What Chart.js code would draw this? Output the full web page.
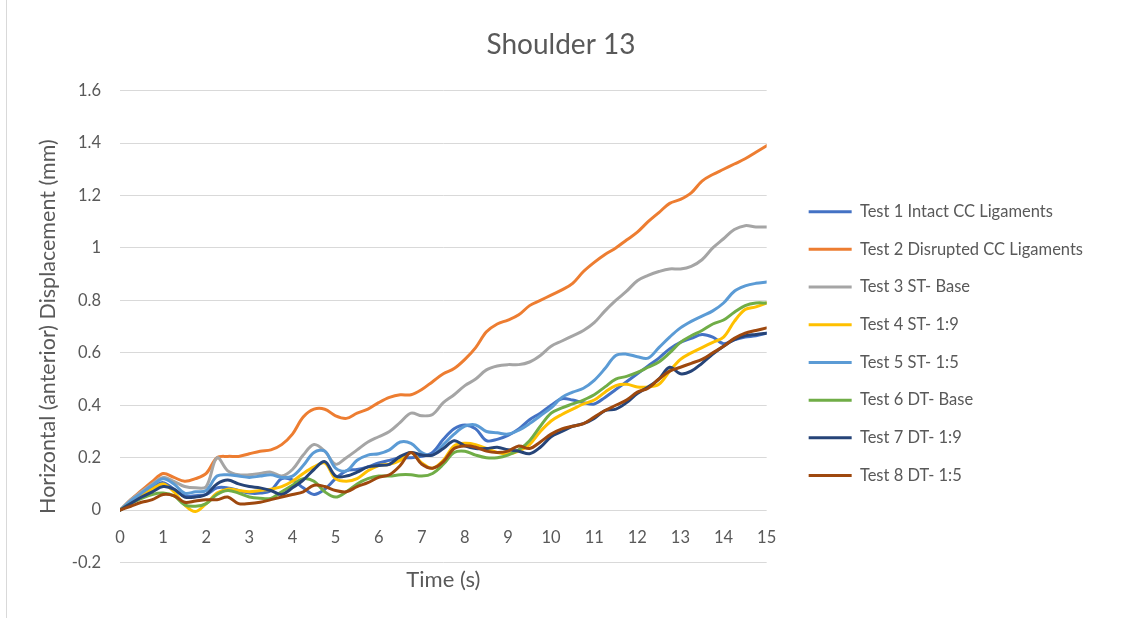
<!DOCTYPE html>
<html lang="en">
<head>
    <meta charset="UTF-8">
    <title>Shoulder 13</title>
    <script src="https://cdn.jsdelivr.net/npm/chart.js"></script>
    <style>
        body {
            margin: 0;
            background-color: #ffffff;
        }

        .frame {
            position: relative;
            width: 1122px;
            height: 618px;
        }

        .frame::before {
            content: "";
            position: absolute;
            left: 6px;
            top: 0;
            bottom: 0;
            border-left: 1px solid #d9d9d9;
        }
    </style>
</head>
<body>
    <div class="frame">
        <canvas id="chart" width="1122" height="618"></canvas>
    </div>
    <script>
        // Time samples (s), every quarter second
        const time = [
            0, 0.25, 0.5, 0.75, 1, 1.25, 1.5, 1.75, 2, 2.25, 2.5, 2.75,
            3, 3.25, 3.5, 3.75, 4, 4.25, 4.5, 4.75, 5, 5.25, 5.5, 5.75,
            6, 6.25, 6.5, 6.75, 7, 7.25, 7.5, 7.75, 8, 8.25, 8.5, 8.75,
            9, 9.25, 9.5, 9.75, 10, 10.25, 10.5, 10.75, 11, 11.25, 11.5, 11.75,
            12, 12.25, 12.5, 12.75, 13, 13.25, 13.5, 13.75, 14, 14.25, 14.5, 14.75,
            15
        ];

        // Horizontal (anterior) displacement in mm for each test
        const test1 = [
            0, 0.03, 0.06, 0.085, 0.105, 0.08, 0.055, 0.055, 0.06, 0.085, 0.085, 0.075,
            0.065, 0.065, 0.075, 0.12, 0.115, 0.085, 0.06, 0.08, 0.12, 0.15, 0.155, 0.165,
            0.18, 0.19, 0.2, 0.2, 0.205, 0.22, 0.27, 0.31, 0.325, 0.31, 0.265, 0.27,
            0.285, 0.31, 0.345, 0.37, 0.4, 0.425, 0.42, 0.41, 0.405, 0.43, 0.46, 0.49,
            0.52, 0.55, 0.58, 0.615, 0.64, 0.655, 0.67, 0.66, 0.635, 0.65, 0.66, 0.665,
            0.675
        ];
        const test2 = [
            0, 0.04, 0.075, 0.11, 0.14, 0.125, 0.11, 0.12, 0.14, 0.2, 0.205, 0.205,
            0.215, 0.225, 0.23, 0.25, 0.29, 0.355, 0.385, 0.385, 0.36, 0.35, 0.37, 0.385,
            0.41, 0.43, 0.44, 0.44, 0.46, 0.49, 0.52, 0.54, 0.575, 0.62, 0.68, 0.71,
            0.725, 0.745, 0.78, 0.8, 0.82, 0.84, 0.865, 0.91, 0.945, 0.975, 1.0, 1.03,
            1.06, 1.1, 1.135, 1.17, 1.185, 1.21, 1.255, 1.28, 1.3, 1.32, 1.34, 1.365,
            1.39
        ];
        const test3 = [
            0, 0.04, 0.07, 0.1, 0.125, 0.11, 0.09, 0.085, 0.09, 0.2, 0.15, 0.135,
            0.135, 0.14, 0.145, 0.13, 0.155, 0.21, 0.25, 0.225, 0.175, 0.2, 0.23, 0.26,
            0.28, 0.3, 0.335, 0.37, 0.36, 0.365, 0.41, 0.44, 0.475, 0.5, 0.535, 0.55,
            0.555, 0.555, 0.565, 0.59, 0.625, 0.645, 0.665, 0.685, 0.715, 0.76, 0.8, 0.835,
            0.875, 0.895, 0.91, 0.92, 0.92, 0.93, 0.955, 1.0, 1.035, 1.07, 1.085, 1.08,
            1.08
        ];
        const test4 = [
            0, 0.03, 0.055, 0.08, 0.1, 0.07, 0.02, -0.005, 0.025, 0.065, 0.08, 0.075,
            0.07, 0.075, 0.08, 0.09, 0.11, 0.14, 0.165, 0.18, 0.12, 0.11, 0.12, 0.15,
            0.17, 0.175, 0.19, 0.22, 0.18, 0.16, 0.19, 0.245, 0.255, 0.25, 0.235, 0.22,
            0.215, 0.225, 0.25, 0.3, 0.34, 0.365, 0.385, 0.405, 0.42, 0.45, 0.475, 0.48,
            0.47, 0.47, 0.48, 0.53, 0.575, 0.6, 0.62, 0.64, 0.66, 0.72, 0.765, 0.775,
            0.79
        ];
        const test5 = [
            0, 0.035, 0.065, 0.095, 0.12, 0.1, 0.065, 0.07, 0.075, 0.13, 0.135, 0.13,
            0.125, 0.13, 0.135, 0.125, 0.13, 0.17, 0.22, 0.225, 0.16, 0.15, 0.19, 0.21,
            0.215, 0.23, 0.26, 0.255, 0.22, 0.21, 0.25, 0.29, 0.32, 0.325, 0.3, 0.295,
            0.29, 0.305, 0.33, 0.36, 0.39, 0.43, 0.45, 0.465, 0.495, 0.54, 0.59, 0.595,
            0.585, 0.58, 0.62, 0.66, 0.695, 0.72, 0.74, 0.76, 0.79, 0.835, 0.855, 0.865,
            0.87
        ];
        const test6 = [
            0, 0.025, 0.045, 0.06, 0.065, 0.055, 0.02, 0.015, 0.025, 0.06, 0.075, 0.065,
            0.05, 0.045, 0.045, 0.07, 0.095, 0.12, 0.11, 0.07, 0.05, 0.07, 0.1, 0.12,
            0.13, 0.13, 0.135, 0.135, 0.13, 0.14, 0.175, 0.22, 0.225, 0.21, 0.2, 0.2,
            0.21, 0.23, 0.265, 0.32, 0.37, 0.39, 0.405, 0.42, 0.44, 0.47, 0.5, 0.51,
            0.525, 0.545, 0.565, 0.6, 0.64, 0.665, 0.685, 0.71, 0.725, 0.755, 0.78, 0.79,
            0.79
        ];
        const test7 = [
            0, 0.025, 0.05, 0.07, 0.09, 0.08, 0.05, 0.05, 0.06, 0.1, 0.115, 0.1,
            0.09, 0.085, 0.075, 0.06, 0.085, 0.115, 0.155, 0.185, 0.13, 0.13, 0.145, 0.165,
            0.17, 0.175, 0.205, 0.22, 0.21, 0.21, 0.235, 0.265, 0.245, 0.235, 0.235, 0.24,
            0.23, 0.225, 0.215, 0.24, 0.28, 0.3, 0.32, 0.33, 0.35, 0.38, 0.385, 0.41,
            0.445, 0.47, 0.5, 0.545, 0.52, 0.53, 0.56, 0.595, 0.625, 0.65, 0.665, 0.67,
            0.675
        ];
        const test8 = [
            0, 0.015, 0.03, 0.04, 0.06, 0.055, 0.03, 0.035, 0.04, 0.04, 0.05, 0.025,
            0.025, 0.03, 0.04, 0.05, 0.06, 0.07, 0.095, 0.09, 0.075, 0.07, 0.09, 0.105,
            0.125, 0.135, 0.17, 0.22, 0.175, 0.16, 0.185, 0.235, 0.245, 0.24, 0.225, 0.22,
            0.225, 0.245, 0.235, 0.26, 0.29, 0.31, 0.32, 0.33, 0.355, 0.38, 0.4, 0.42,
            0.45, 0.465, 0.5, 0.53, 0.545, 0.56, 0.575, 0.6, 0.625, 0.655, 0.675, 0.685,
            0.695
        ];

        const seriesNames = [
            'Test 1 Intact CC Ligaments',
            'Test 2 Disrupted CC Ligaments',
            'Test 3 ST- Base',
            'Test 4 ST- 1:9',
            'Test 5 ST- 1:5',
            'Test 6 DT- Base',
            'Test 7 DT- 1:9',
            'Test 8 DT- 1:5'
        ];
        const seriesValues = [test1, test2, test3, test4, test5, test6, test7, test8];
        const seriesColors = ['#4472C4', '#ED7D31', '#A5A5A5', '#FFC000', '#5B9BD5', '#70AD47', '#264478', '#9E480E'];

        const yTicks = { min: -0.2, max: 1.6, step: 0.2 };
        const xTicks = { min: 0, max: 15, step: 1 };

        const textColor = '#595959';
        const fontFamily = 'Lato, "Noto Sans", sans-serif';

        // Later tests are drawn on top of earlier ones
        const datasets = seriesNames.map((name, i) => ({
            label: name,
            data: seriesValues[i],
            borderColor: seriesColors[i],
            backgroundColor: seriesColors[i],
            borderWidth: 3,
            borderJoinStyle: 'round',
            borderCapStyle: 'round',
            pointRadius: 0,
            pointHoverRadius: 0,
            tension: 0.35,
            fill: false,
            xAxisID: 'x',
            yAxisID: 'y',
            order: seriesNames.length - i
        }));

        // blank right-hand axis used only to reserve horizontal room
        const spacer = (width, weight) => ({
            type: 'linear',
            position: 'right',
            weight: weight,
            grid: { display: false, drawTicks: false },
            border: { display: false },
            ticks: { display: false },
            afterFit: (scale) => { scale.width = width; }
        });

        new Chart(document.getElementById('chart'), {
            type: 'line',
            data: {
                labels: time,
                datasets: datasets
            },
            options: {
                responsive: false,
                animation: false,
                layout: {
                    padding: 0
                },
                plugins: {
                    title: {
                        display: true,
                        text: 'Shoulder 13',
                        color: textColor,
                        font: { family: fontFamily, size: 28, weight: 'normal' },
                        padding: { top: 28, bottom: 29 }
                    },
                    subtitle: {
                        display: true,
                        position: 'bottom',
                        fullSize: false,
                        text: 'Time (s)',
                        color: textColor,
                        font: { family: fontFamily, size: 22 },
                        padding: { top: 4, bottom: 25 }
                    },
                    legend: {
                        position: 'right',
                        fullSize: false,
                        maxWidth: 340,
                        title: {
                            display: true,
                            text: '',
                            font: { size: 10 },
                            padding: { top: 0, bottom: 22 }
                        },
                        labels: {
                            color: textColor,
                            font: { family: fontFamily, size: 16.5 },
                            usePointStyle: true,
                            pointStyle: 'line',
                            pointStyleWidth: 43,
                            padding: 21.2,
                            sort: (a, b) => a.datasetIndex - b.datasetIndex
                        }
                    },
                    tooltip: { enabled: false }
                },
                scales: {
                    x: {
                        type: 'linear',
                        position: { y: 0 },
                        min: xTicks.min,
                        max: xTicks.max,
                        grid: { display: false, drawTicks: false },
                        border: { display: false },
                        ticks: {
                            stepSize: xTicks.step,
                            autoSkip: false,
                            color: textColor,
                            padding: 18,
                            font: { family: fontFamily, size: 16.5 }
                        }
                    },
                    y: {
                        type: 'linear',
                        position: 'left',
                        min: yTicks.min,
                        max: yTicks.max,
                        grid: { color: '#d9d9d9', lineWidth: 1, drawTicks: false },
                        border: { display: false },
                        ticks: {
                            stepSize: yTicks.step,
                            color: textColor,
                            padding: 19,
                            font: { family: fontFamily, size: 16.5 },
                            callback: (v) => String(Number(v.toFixed(1)))
                        },
                        title: {
                            display: true,
                            text: 'Horizontal (anterior) Displacement (mm)',
                            color: textColor,
                            font: { family: fontFamily, size: 21.5 },
                            padding: { top: 35, bottom: 0 }
                        },
                        afterFit: (scale) => { scale.width = 120; }
                    },
                    // gap between plot and legend, and margin outside the legend
                    gap: spacer(20.8, 0),
                    edge: spacer(29, 2000)
                }
            }
        });
    </script>
</body>
</html>
